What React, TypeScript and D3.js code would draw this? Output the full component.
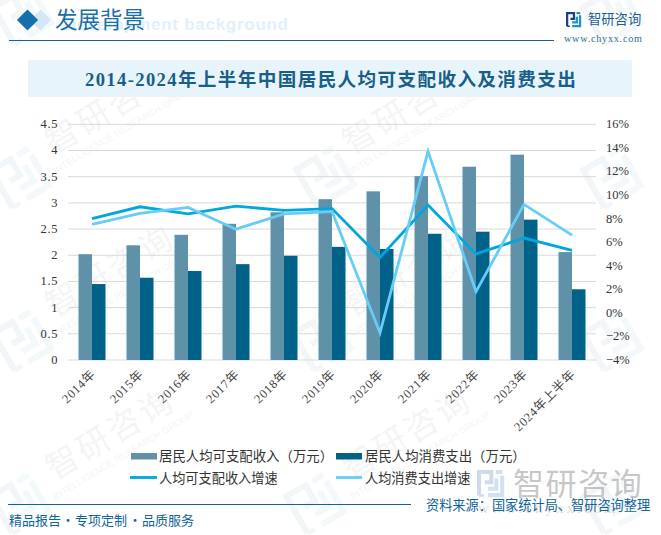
import React from "react";
import * as d3 from "d3";

const categories = ["2014年","2015年","2016年","2017年","2018年","2019年","2020年","2021年","2022年","2023年","2024年上半年"];
const incomeValues = [2.02,2.19,2.39,2.60,2.82,3.07,3.22,3.51,3.69,3.92,2.06];
const spendValues = [1.45,1.57,1.70,1.83,1.99,2.16,2.12,2.41,2.45,2.68,1.35];
const incomeGrowth = [8.0,9.0,8.4,9.05,8.7,8.85,4.7,9.15,5.0,6.35,5.3];
const spendGrowth = [7.5,8.45,8.95,7.1,8.4,8.6,-1.7,13.7,1.8,9.2,6.6];
const leftTicks = [0,0.5,1,1.5,2,2.5,3,3.5,4,4.5];
const rightTicks = [-4,-2,0,2,4,6,8,10,12,14,16];
const incomeName = "居民人均可支配收入（万元）";
const spendName = "居民人均消费支出（万元）";
const incomeGrowthName = "人均可支配收入增速";
const spendGrowthName = "人均消费支出增速";

const SERIF = "'Liberation Serif','Noto Sans CJK SC',serif";
const CJK = "'Noto Sans CJK SC','Liberation Serif',sans-serif";
const W = 661, H = 535;
const BAR1 = "#5f91a9", BAR2 = "#006288", LINE1 = "#00a6de", LINE2 = "#66cdf8";

const x = d3.scaleBand<string>().domain(categories).range([68, 596]);
const yL = d3.scaleLinear().domain([0, 4.5]).range([360, 124.3]);
const yR = d3.scaleLinear().domain([-4, 16]).range([360, 124.3]);
const barW = 13.5;
const cx = (c: string) => (x(c) as number) + x.bandwidth() / 2;

const lineGen = d3.line<number>().x((_, i) => cx(categories[i])).y(d => yR(d));

function Logo({ fill, fill2, sw = 2.4 }: { fill: string; fill2: string; sw?: number }) {
  return (
    <g fill="none" strokeWidth={sw}>
      <path d="M1.2 15 V1.2 H8.4 V7.2 H4.6" stroke={fill} />
      <path d="M1.2 15 H4" stroke={fill} strokeWidth={1.5} />
      <path d="M11 1.2 H15 M14.8 3.4 V14.8 H6.5 M6.5 11 H11.4 V5" stroke={fill2} />
    </g>
  );
}

const wmTextPos: [number, number][] = [[115,116],[412,116],[115,279],[412,279],[115,442],[412,442]];
const wmLogoPos: [number, number][] = [[22,15],[325,177],[612,15],[20,178],[612,178],[322,341],[22,341],[612,341],[20,504],[315,504],[612,504]];

function Watermarks() {
  return (
    <g>
      {wmLogoPos.map(([a, b], i) => (
        <g key={i} transform={`translate(${a},${b}) rotate(-30) scale(3.1) translate(-8,-8)`} opacity={0.06}>
          <Logo fill="#3f6fa8" fill2="#3f8fc8" sw={2} />
        </g>
      ))}
      {wmTextPos.map(([a, b], i) => (
        <g key={i} transform={`translate(${a},${b}) rotate(-31)`} textAnchor="middle" fontFamily={CJK}>
          <text fontSize={33} letterSpacing={3} fill="#6a6f75" opacity={0.065} y={2}>智研咨询</text>
          <text fontSize={9.5} fill="#6a6f75" opacity={0.07} y={19} fontFamily="'Liberation Sans',sans-serif">INTELLIGENCE RESEARCH GROUP</text>
        </g>
      ))}
    </g>
  );
}

export default function App() {
  return (
    <svg width={W} height={H} viewBox={`0 0 ${W} ${H}`} style={{ position: "absolute", left: 0, top: 0, background: "#fff" }}>
      <Watermarks />

      {/* header */}
      <rect x={33} y={12.5} width={15} height={15} transform="rotate(45 40.5 20)" fill="#d6e6f2" />
      <rect x={20} y={12.5} width={15} height={15} transform="rotate(45 27.5 20)" fill="#1470aa" />
      <text x={64} y={30} fontFamily="'Liberation Sans',sans-serif" fontWeight={700} fontSize={17} fill="#e2f0fa" textLength={224}>Development background</text>
      <text x={55} y={27.5} fontFamily={CJK} fontSize={22.5} fill="#1a6fa8">发展背景</text>
      <line x1={9} x2={554} y1={40.5} y2={40.5} stroke="#0f659b" strokeWidth={1.2} />
      <g transform="translate(566,12) scale(0.95)"><Logo fill="#1c3f86" fill2="#1f8fd6" /></g>
      <text x={588} y={24} fontFamily={CJK} fontSize={13.3} fill="#1a6094">智研咨询</text>
      <text x={564} y={42} fontFamily={SERIF} fontSize={10.2} letterSpacing={0.75} fill="#2f6d95">www.chyxx.com</text>

      {/* title */}
      <rect x={28} y={60} width={604} height={37} fill="#e8f4fb" />
      <text x={85} y={86} fontFamily={SERIF} fontWeight={700} fontSize={18.6} letterSpacing={1.37} fill="#1a5f88">2014-2024年上半年中国居民人均可支配收入及消费支出</text>

      {/* grid */}
      {leftTicks.map(t => (
        <line key={t} x1={68} x2={596} y1={yL(t)} y2={yL(t)} stroke="#d9d9d9" strokeWidth={1} />
      ))}

      {/* bars */}
      {categories.map((c, i) => (
        <g key={c}>
          <rect x={cx(c) - barW} y={yL(incomeValues[i])} width={barW} height={360 - yL(incomeValues[i])} fill={BAR1} />
          <rect x={cx(c)} y={yL(spendValues[i])} width={barW} height={360 - yL(spendValues[i])} fill={BAR2} />
        </g>
      ))}

      {/* lines */}
      <path d={lineGen(incomeGrowth) as string} fill="none" stroke={LINE1} strokeWidth={2.8} strokeLinejoin="miter" />
      <path d={lineGen(spendGrowth) as string} fill="none" stroke={LINE2} strokeWidth={2.8} strokeLinejoin="miter" />

      {/* axes */}
      {leftTicks.map(t => (
        <text key={t} x={58} y={yL(t) + 4} textAnchor="end" fontFamily={SERIF} fontSize={12.5} letterSpacing={0.6} fill="#333">{String(t)}</text>
      ))}
      {rightTicks.map(t => (
        <text key={t} x={606} y={yR(t) + 4} fontFamily={SERIF} fontSize={12.5} fill="#333">{t < 0 ? `−${-t}%` : `${t}%`}</text>
      ))}
      {categories.map(c => (
        <text key={c} transform={`translate(${cx(c) + 4},${375}) rotate(-45)`} textAnchor="end" fontFamily={SERIF} fontSize={12.5} letterSpacing={0.7} fill="#444">{c}</text>
      ))}

      {/* legend */}
      <rect x={131} y={453} width={26} height={6.5} fill={BAR1} />
      <text x={159} y={461} fontFamily={CJK} fontSize={13.4} fill="#333">{incomeName}</text>
      <rect x={336} y={453} width={26} height={6.5} fill={BAR2} />
      <text x={365} y={461} fontFamily={CJK} fontSize={13.4} fill="#333">{spendName}</text>
      <line x1={130} x2={157} y1={477.5} y2={477.5} stroke={LINE1} strokeWidth={2.8} />
      <text x={159} y={482.5} fontFamily={CJK} fontSize={13.2} fill="#333">{incomeGrowthName}</text>
      <line x1={336} x2={362} y1={477.5} y2={477.5} stroke={LINE2} strokeWidth={2.8} />
      <text x={365} y={482.5} fontFamily={CJK} fontSize={13.2} fill="#333">{spendGrowthName}</text>

      {/* footer */}
      <g opacity={0.32}>
        <g transform="translate(477,470) scale(1.7)"><Logo fill="#6f8fc0" fill2="#6fa8d8" /></g>
        <text x={513} y={495} fontFamily={CJK} fontSize={31} letterSpacing={1.6} fill="#555">智研咨询</text>
      </g>
      <text x={478} y={513} fontFamily={SERIF} fontSize={15} letterSpacing={3} fill="#bbb" opacity={0.5}>www.chyxx.com</text>
      <line x1={8} x2={411} y1={504.5} y2={504.5} stroke="#0f659b" strokeWidth={1.2} />
      <text y={524.5} fontFamily={CJK} fontSize={13} fill="#0f659b">
        <tspan x={9}>精品报告</tspan>
        <tspan x={61.5}>·</tspan>
        <tspan x={75}>专项定制</tspan>
        <tspan x={128.5}>·</tspan>
        <tspan x={142}>品质服务</tspan>
      </text>
      <text x={426} y={509.5} fontFamily={CJK} fontSize={13.2} fill="#0f659b">资料来源：国家统计局、智研咨询整理</text>
    </svg>
  );
}
